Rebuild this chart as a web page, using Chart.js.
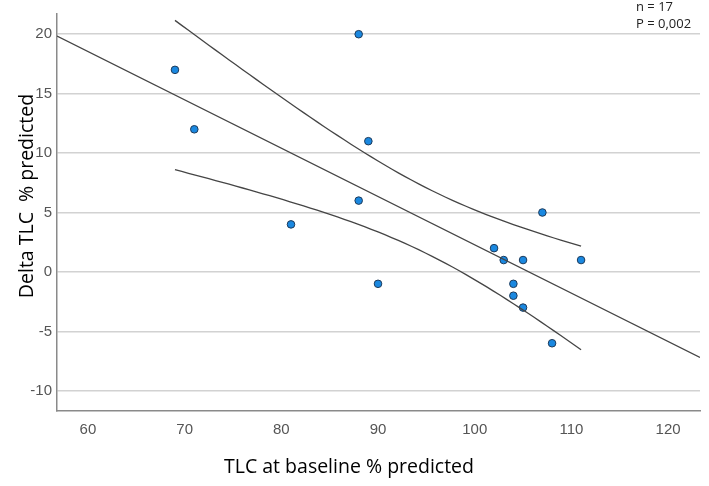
<!DOCTYPE html>
<html>
<head>
<meta charset="utf-8">
<script src="https://cdn.jsdelivr.net/npm/chart.js@4/dist/chart.umd.min.js"></script>
<style>
  html, body { margin: 0; padding: 0; background: #fff; }
  #wrap { width: 709px; height: 486px; }
</style>
</head>
<body>
<div id="wrap"><canvas id="scatterChart" width="709" height="486"></canvas></div>
<script>
// TLC at baseline (% predicted) vs change in TLC (% predicted)
const tlcBaseline = [69, 71, 81, 88, 89, 88, 90, 102, 103, 105, 104, 104, 105, 108, 107, 111];
const deltaTlc = [17, 12, 4, 20, 11, 6, -1, 2, 1, 1, -1, -2, -3, -6, 5, 1];
const yTicks = [-10, -5, 0, 5, 10, 15, 20];
const xTicks = [60, 70, 80, 90, 100, 110, 120];
const statLines = ['n = 17', 'P = 0,002'];
const xTitle = 'TLC at baseline % predicted';
const yTitle = 'Delta TLC  % predicted';

const xMin = 56.8, xMax = 123.3;
const yMin = -11.7, yMax = 21.7;
const tCrit = 2.145; // t(0.975, df = n - 2)

// least squares fit + 95% CI of the mean
const n = tlcBaseline.length;
const mx = tlcBaseline.reduce((a, b) => a + b, 0) / n;
const my = deltaTlc.reduce((a, b) => a + b, 0) / n;
let sxx = 0, sxy = 0;
tlcBaseline.forEach((x, i) => {
  sxx += (x - mx) ** 2;
  sxy += (x - mx) * (deltaTlc[i] - my);
});
const slope = sxy / sxx;
const intercept = my - slope * mx;
let sse = 0;
tlcBaseline.forEach((x, i) => { sse += (deltaTlc[i] - (intercept + slope * x)) ** 2; });
const s = Math.sqrt(sse / (n - 2));

const fitLine = [xMin, xMax].map(x => ({ x: x, y: intercept + slope * x }));
const dataLo = Math.min(...tlcBaseline), dataHi = Math.max(...tlcBaseline);
const upperBand = [], lowerBand = [];
for (let k = 0; k <= 60; k++) {
  const x = dataLo + (dataHi - dataLo) * k / 60;
  const half = tCrit * s * Math.sqrt(1 / n + (x - mx) ** 2 / sxx);
  upperBand.push({ x: x, y: intercept + slope * x + half });
  lowerBand.push({ x: x, y: intercept + slope * x - half });
}

const points = tlcBaseline.map((x, i) => ({ x: x, y: deltaTlc[i] }));

const lineStyle = {
  type: 'line', borderColor: '#454545', borderWidth: 1.3,
  pointRadius: 0, fill: false, tension: 0, showLine: true
};

const textPlugin = {
  id: 'textPlugin',
  afterDraw(chart) {
    const ctx = chart.ctx;
    ctx.save();
    ctx.fillStyle = '#222';
    ctx.font = '13px "Open Sans", sans-serif';
    ctx.textAlign = 'left';
    ctx.textBaseline = 'middle';
    ctx.fillText(statLines[0], 636, 7);
    ctx.fillText(statLines[1], 636, 24);

    ctx.fillStyle = '#000';
    ctx.font = '19.5px "Open Sans", sans-serif';
    ctx.textAlign = 'center';
    ctx.fillText(xTitle, 349, 467);
    ctx.translate(27, 196);
    ctx.rotate(-Math.PI / 2);
    ctx.fillText(yTitle, 0, 0);
    ctx.restore();
  }
};

const ctx = document.getElementById('scatterChart').getContext('2d');
new Chart(ctx, {
  type: 'scatter',
  data: {
    datasets: [
      Object.assign({ data: upperBand }, lineStyle),
      Object.assign({ data: fitLine }, lineStyle),
      Object.assign({ data: lowerBand }, lineStyle),
      {
        type: 'scatter',
        data: points,
        backgroundColor: '#1a88e0',
        borderColor: '#1d3a5a',
        borderWidth: 1,
        pointRadius: 3.8,
        pointHoverRadius: 3.8
      }
    ]
  },
  plugins: [textPlugin],
  options: {
    responsive: false,
    animation: false,
    events: [],
    layout: { padding: { top: 13, right: 9, left: 0, bottom: 0 } },
    plugins: { legend: { display: false }, tooltip: { enabled: false } },
    scales: {
      x: {
        type: 'linear',
        min: xMin, max: xMax,
        afterBuildTicks: scale => { scale.ticks = xTicks.map(v => ({ value: v })); },
        afterFit: scale => { scale.height = 75; },
        grid: { display: false, drawTicks: false },
        border: { display: true, color: '#8a8a8a', width: 1.5 },
        ticks: { color: '#555', font: { family: '"Liberation Sans", Arial', size: 15 }, padding: 10 }
      },
      y: {
        type: 'linear',
        min: yMin, max: yMax,
        afterBuildTicks: scale => { scale.ticks = yTicks.map(v => ({ value: v })); },
        afterFit: scale => { scale.width = 57; },
        grid: { color: '#d2d2d2', lineWidth: 1.5, drawTicks: false },
        border: { display: true, color: '#8a8a8a', width: 1.5 },
        ticks: { color: '#555', font: { family: '"Liberation Sans", Arial', size: 15 }, padding: 5 }
      }
    }
  }
});
</script>
</body>
</html>
